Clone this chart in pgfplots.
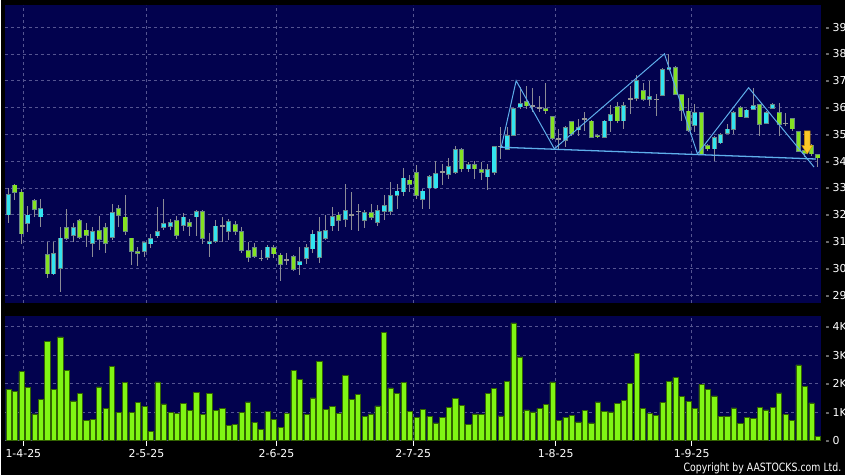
\documentclass[border=0pt]{standalone}
\usepackage{pgfplots}
\pgfplotsset{compat=1.18}
\usepackage{pgfplotstable}
\usepackage{fontspec}
\setmainfont{DejaVu Sans}
\usepackage{graphicx}

\definecolor{bgnavy}{RGB}{2,2,78}
\definecolor{gridc}{RGB}{85,85,145}
\definecolor{upc}{RGB}{50,228,240}
\definecolor{dnc}{RGB}{132,226,34}
\definecolor{bordc}{RGB}{105,135,135}
\definecolor{wickc}{RGB}{140,140,150}
\definecolor{flatc}{RGB}{150,150,150}
\definecolor{volc}{RGB}{128,245,20}
\definecolor{volb}{RGB}{50,100,0}
\definecolor{patc}{RGB}{95,175,235}
\definecolor{arrc}{RGB}{250,200,40}
\definecolor{arrb}{RGB}{200,140,0}

\pgfplotstableread{
i O H L C
0 31.99 33.01 31.68 32.75
3 31.68 32.32 31.37 31.99
5 31.92 32.57 31.55 32.23
7 29.79 30.97 29.75 30.55
8 30.00 31.53 29.11 31.13
10 31.22 31.70 31.00 31.52
13 30.94 31.55 30.44 31.37
16 31.15 32.39 31.06 32.07
21 30.63 31.00 30.44 30.96
22 30.91 31.27 30.75 31.11
23 31.21 32.30 31.12 31.37
24 31.52 32.57 31.43 31.67
25 31.55 31.84 31.43 31.70
27 31.59 32.05 31.41 31.92
29 31.92 32.17 31.22 32.11
31 30.93 31.31 30.44 31.00
32 31.00 31.80 30.94 31.58
34 31.39 31.86 31.06 31.76
40 30.42 30.88 30.30 30.80
45 30.13 30.81 29.77 30.26
46 30.36 30.90 30.16 30.78
47 30.72 31.42 30.57 31.28
48 30.41 31.93 30.20 31.37
49 31.10 31.99 31.06 31.41
50 31.58 32.30 31.39 31.93
52 31.83 33.16 31.55 32.15
55 31.80 32.17 31.52 32.07
57 31.70 32.36 31.58 32.15
58 32.13 32.73 31.80 32.36
59 32.11 33.22 31.99 32.73
60 32.73 33.16 32.23 32.89
61 32.85 33.74 32.69 33.37
64 32.58 32.97 32.23 32.89
65 33.00 33.47 32.23 33.43
66 33.00 34.00 32.97 33.55
68 33.50 34.11 33.34 33.80
69 33.59 34.58 33.53 34.43
71 33.71 33.96 33.59 33.88
74 33.41 33.90 32.94 33.69
75 33.59 34.58 33.47 34.54
77 34.42 35.26 34.40 34.97
78 34.97 36.00 34.95 35.96
79 36.02 36.75 35.96 36.15
86 34.76 35.32 34.52 35.26
88 35.16 35.57 34.95 35.26
92 34.89 35.53 34.86 35.50
93 35.50 36.10 35.07 35.75
95 35.50 36.19 35.20 36.09
97 36.33 37.23 36.25 37.02
99 36.31 36.99 36.06 36.40
101 36.46 37.48 36.42 37.42
102 37.42 38.00 37.40 37.50
106 35.32 36.12 35.07 35.81
109 34.45 34.92 34.02 34.89
110 34.68 35.04 34.64 34.99
111 35.04 35.38 35.01 35.20
112 35.19 35.87 35.01 35.81
114 35.63 35.94 35.60 35.91
115 35.94 36.74 35.92 36.09
117 35.41 35.87 35.38 35.81
118 35.97 36.18 35.94 36.12
}\upT

\pgfplotstableread{
i O H L C
1 33.11 33.15 32.54 32.83
2 32.85 32.97 30.91 31.28
4 32.52 32.59 31.90 32.21
6 30.52 31.00 29.64 29.79
9 31.52 32.23 31.06 31.11
11 31.78 31.86 31.10 31.16
12 31.43 31.68 30.81 31.22
14 31.41 31.95 30.69 31.09
15 31.52 31.68 30.57 30.93
17 32.22 32.37 31.55 31.96
18 31.92 32.72 31.25 31.37
19 31.13 31.15 30.13 30.63
20 30.63 30.81 30.10 30.56
26 31.80 31.95 31.10 31.22
28 31.70 31.84 31.22 31.55
30 32.11 32.17 30.91 31.11
35 31.65 31.76 31.25 31.37
36 31.39 31.55 30.57 30.67
37 30.67 30.97 30.23 30.41
38 30.78 30.94 30.38 30.44
41 30.78 30.88 30.38 30.54
42 30.50 30.57 29.52 30.16
44 30.44 30.50 29.91 29.97
51 31.99 32.11 31.39 31.78
56 32.07 32.42 31.80 31.91
62 33.30 33.47 32.85 33.14
63 33.59 33.84 32.60 32.73
70 34.43 34.48 33.59 33.71
72 33.88 34.02 33.34 33.71
73 33.69 33.96 33.28 33.59
80 36.21 36.80 35.94 36.06
83 35.96 36.90 35.75 35.88
84 35.66 35.69 34.80 34.83
87 35.48 35.50 34.95 35.01
90 35.50 35.53 34.86 34.89
91 34.97 35.00 34.86 34.91
94 36.04 36.19 35.44 35.50
98 36.65 36.92 36.25 36.31
103 37.48 37.55 36.45 36.49
104 36.49 36.52 35.50 35.90
105 35.87 36.37 35.07 35.13
107 35.81 35.83 34.25 34.27
108 34.58 34.64 34.39 34.45
113 36.00 36.06 35.63 35.65
116 36.12 36.14 34.95 35.38
119 35.81 36.18 34.95 35.38
121 35.60 35.62 35.13 35.20
122 35.11 35.13 34.33 34.37
123 34.40 34.55 34.15 34.30
124 34.60 34.64 34.20 34.27
125 34.25 34.27 33.78 34.12
}\dnT

\pgfplotstableread{
i O H L C
33 31.58 31.93 31.00 31.58
39 30.38 30.69 30.28 30.38
43 30.33 30.57 30.13 30.33
53 31.99 32.85 31.43 31.99
54 32.13 32.42 31.39 32.13
67 33.59 33.90 33.10 33.59
76 34.55 35.26 34.09 34.55
81 36.06 36.74 35.84 36.06
82 36.00 36.43 35.84 36.00
85 34.83 35.20 34.45 34.83
89 35.57 35.84 35.14 35.57
96 36.33 36.80 35.75 36.33
100 36.30 36.49 35.69 36.30
120 35.41 35.81 35.32 35.41
}\flatT

\pgfplotstableread{
i V
0 1.80
1 1.72
2 2.42
3 1.86
4 0.94
5 1.45
6 3.48
7 1.79
8 3.64
9 2.47
10 1.39
11 1.66
12 0.70
13 0.74
14 1.88
15 1.13
16 2.60
17 1.00
18 2.03
19 0.98
20 1.34
21 1.21
22 0.31
23 2.06
24 1.29
25 1.00
26 0.96
27 1.31
28 1.07
29 1.70
30 0.91
31 1.65
32 1.05
33 1.13
34 0.53
35 0.56
36 1.00
37 1.36
38 0.65
39 0.39
40 1.02
41 0.75
42 0.45
43 0.96
44 2.45
45 2.16
46 0.91
47 1.50
48 2.79
49 1.10
50 1.21
51 0.96
52 2.30
53 1.45
54 1.63
55 0.86
56 0.94
57 1.22
58 3.80
59 1.85
60 1.66
61 2.03
62 1.02
63 0.81
64 1.10
65 0.84
66 0.62
67 0.82
68 1.17
69 1.49
70 1.24
71 0.56
72 0.94
73 0.92
74 1.66
75 1.84
76 0.87
77 2.08
78 4.13
79 2.94
80 1.08
81 1.01
82 1.13
83 1.28
84 2.06
85 0.72
86 0.81
87 0.89
88 0.66
89 1.05
90 0.62
91 1.36
92 1.02
93 1.01
94 1.31
95 1.41
96 2.00
97 3.05
98 1.13
99 0.95
100 0.89
101 1.34
102 2.07
103 2.21
104 1.56
105 1.38
106 1.13
107 1.96
108 1.79
109 1.57
110 0.85
111 0.85
112 1.15
113 0.59
114 0.82
115 0.79
116 1.16
117 1.08
118 1.17
119 1.67
120 0.91
121 0.72
122 2.66
123 1.90
124 1.32
125 0.15
}\volT

\pgfplotsset{
  ebar/.style n args={2}{draw=none, mark=none, forget plot,
    error bars/.cd, y dir=both, y explicit, error mark=none,
    error bar style={draw=#1, solid, line width=#2}},
}

\begin{document}
\begin{tikzpicture}
\fill[black] (0pt,0pt) rectangle (850pt,478pt);

% ---------- price panel ----------
\begin{axis}[
  at={(3.5pt,173pt)}, anchor=south west,
  width=822pt, height=300pt, scale only axis,
  xmin=-0.54, xmax=125.5, ymin=28.715, ymax=39.826,
  axis background/.style={fill=bgnavy},
  axis line style={draw=none},
  xtick={2.3,21.3,41.4,62.5,84.5,105.5}, xticklabels={},
  ytick={29,30,...,39},
  xmajorgrids, ymajorgrids,
  grid style={draw=gridc, dash pattern=on 3pt off 3pt, line width=0.7pt},
  major tick length=0pt,
  tick style={draw=none},
  yticklabel pos=right,
  /pgf/number format/assume math mode=true,
  yticklabel={-\hspace{3pt}\pgfmathprintnumber{\tick}},
  yticklabel style={text=white, font=\fontsize{11}{13}\selectfont, anchor=west, xshift=1pt},
]
% wicks
\addplot[ebar={wickc}{1pt}] table[x=i, y expr={(\thisrow{H}+\thisrow{L})/2}, y error expr={(\thisrow{H}-\thisrow{L})/2}] \upT;
\addplot[ebar={wickc}{1pt}] table[x=i, y expr={(\thisrow{H}+\thisrow{L})/2}, y error expr={(\thisrow{H}-\thisrow{L})/2}] \dnT;
\addplot[ebar={wickc}{1pt}] table[x=i, y expr={(\thisrow{H}+\thisrow{L})/2}, y error expr={(\thisrow{H}-\thisrow{L})/2}] \flatT;
% bodies: border
\addplot[ebar={bordc}{5pt}] table[x=i, y expr={(\thisrow{O}+\thisrow{C})/2}, y error expr={max(abs(\thisrow{O}-\thisrow{C})/2,0.02)+0.015}] \upT;
\addplot[ebar={bordc}{5pt}] table[x=i, y expr={(\thisrow{O}+\thisrow{C})/2}, y error expr={max(abs(\thisrow{O}-\thisrow{C})/2,0.02)+0.015}] \dnT;
\addplot[ebar={flatc}{5pt}] table[x=i, y expr={(\thisrow{O}+\thisrow{C})/2}, y error expr={0.025}] \flatT;
% bodies: fill
\addplot[ebar={upc}{3.4pt}] table[x=i, y expr={(\thisrow{O}+\thisrow{C})/2}, y error expr={max(abs(\thisrow{O}-\thisrow{C})/2-0.015,0)}] \upT;
\addplot[ebar={dnc}{3.4pt}] table[x=i, y expr={(\thisrow{O}+\thisrow{C})/2}, y error expr={max(abs(\thisrow{O}-\thisrow{C})/2-0.015,0)}] \dnT;
% pattern lines
\addplot[patc, line width=1pt] coordinates {(76.1,34.52) (78.4,37.0) (84.3,34.46) (101.3,38.0) (106.4,34.27) (114.3,36.74) (124.4,33.78)};
\addplot[patc, line width=1.3pt] coordinates {(75.9,34.52) (124.7,34.08)};
% arrow
\addplot[fill=arrc, draw=arrb, line width=0.4pt] coordinates {(122.9,35.13) (123.8,35.13) (123.8,34.58) (124.2,34.58) (123.35,34.27) (122.5,34.58) (122.9,34.58)} --cycle;
\end{axis}

% ---------- volume panel ----------
\begin{axis}[
  at={(3.5pt,34.3pt)}, anchor=south west,
  width=822pt, height=125.7pt, scale only axis,
  xmin=-0.54, xmax=125.5, ymin=0, ymax=4.38,
  axis background/.style={fill=bgnavy},
  axis line style={draw=none},
  xtick={2.3,21.3,41.4,62.5,84.5,105.5},
  xticklabels={1-4-25,2-5-25,2-6-25,2-7-25,1-8-25,1-9-25},
  ytick={0,1,2,3,4},
  yticklabels={-\hspace{3pt}0,-\hspace{3pt}1K,-\hspace{3pt}2K,-\hspace{3pt}3K,-\hspace{3pt}4K},
  xmajorgrids, ymajorgrids,
  grid style={draw=gridc, dash pattern=on 3pt off 3pt, line width=0.7pt},
  tick align=outside, major tick length=5pt,
  xtick pos=left,
  xtick style={draw=white, line width=0.8pt},
  ytick style={draw=none},
  yticklabel pos=right,
  yticklabel style={text=white, font=\fontsize{11}{13}\selectfont, anchor=west, xshift=-4pt},
  xticklabel style={text=white, font=\fontsize{11}{13}\selectfont},
]
\addplot[ybar, bar width=0.8, bar shift=0pt, fill=volc, draw=volb, line width=0.5pt] table[x=i, y=V] \volT;
\end{axis}

\node[anchor=east, text=white, inner sep=0pt] at (846pt,6.3pt) {\scalebox{0.82}[1]{\fontsize{11.5}{13}\selectfont Copyright by AASTOCKS.com Ltd.}};
\end{tikzpicture}
\end{document}
